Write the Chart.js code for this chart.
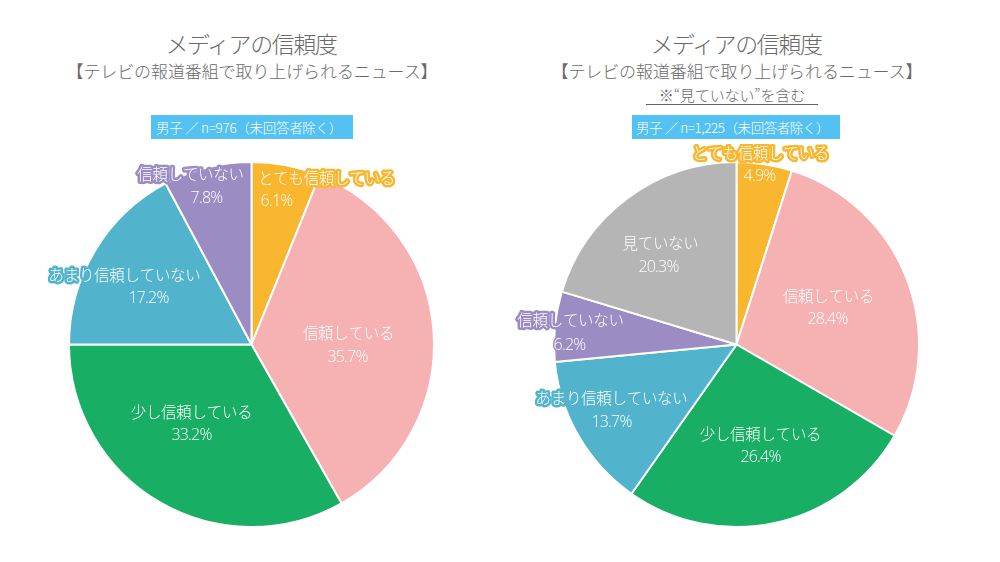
<!DOCTYPE html>
<html lang="ja">
<head>
<meta charset="utf-8">
<title>メディアの信頼度</title>
<script src="https://cdn.jsdelivr.net/npm/chart.js@4"></script>
<style>
    html, body { margin: 0; background: #fff; }
    body { position: relative; width: 1000px; height: 562px; overflow: hidden; font-family: "Noto Sans CJK JP", sans-serif; font-weight: 300; color: #6a6a6a; }
    .txt { position: absolute; text-align: center; white-space: nowrap; }
    .title { font-size: 23px; line-height: 30px; width: 400px; top: 28px; letter-spacing: -1.4px; }
    .sub { font-size: 17px; line-height: 24px; width: 460px; top: 59px; letter-spacing: -0.1px; }
    .note { font-size: 15px; line-height: 20px; left: 646px; width: 172px; top: 85px; border-bottom: 1px solid #666; height: 19px; letter-spacing: -0.1px; }
    .badge { position: absolute; background: #53c1f2; color: #fff; font-size: 13.5px; line-height: 24px; height: 24px; box-sizing: border-box; padding-left: 5px; white-space: nowrap; letter-spacing: -0.3px; }
    canvas { position: absolute; top: 0; }
    .pie { position: absolute; top: 144px; width: 503px; height: 401px; }
</style>
</head>
<body>
<div class="txt title" style="left:51px">メディアの信頼度</div>
<div class="txt sub" style="left:22px">【テレビの報道番組で取り上げられるニュース】</div>
<div class="badge" style="left:151px;top:115px;width:202px">男子 ／ n=976（未回答者除く）</div>

<div class="txt title" style="left:536px">メディアの信頼度</div>
<div class="txt sub" style="left:507px">【テレビの報道番組で取り上げられるニュース】</div>
<div class="txt note">※“見ていない”を含む</div>
<div class="badge" style="left:632px;top:115px;width:208px;padding-left:4px;letter-spacing:-0.45px">男子 ／ n=1,225（未回答者除く）</div>

<div class="pie" style="left:0"><canvas id="pieLeft"></canvas></div>
<div class="pie" style="left:485px"><canvas id="pieRight"></canvas></div>

<script>
// Categories and values
const leftCategories = ['とても信頼している', '信頼している', '少し信頼している', 'あまり信頼していない', '信頼していない'];
const leftValues = [6.1, 35.7, 33.2, 17.2, 7.8];
const rightCategories = ['とても信頼している', '信頼している', '少し信頼している', 'あまり信頼していない', '信頼していない', '見ていない'];
const rightValues = [4.9, 28.4, 26.4, 13.7, 6.2, 20.3];

const sliceColors = ['#f9b62f', '#f6b1b3', '#18af64', '#52b3cd', '#9b8dc3', '#b5b5b5'];

// Label offsets from the pie centre: [name x, name y, percent x, percent y]
const leftLabelPos = [
    [75, -166, 25, -143],
    [97, -11, 96, 13],
    [-60, 68, -60, 91],
    [-127, -69, -103, -46],
    [-61, -170, -45, -146]
];
const rightLabelPos = [
    [24, -191, 23, -168],
    [92, -48, 91, -25],
    [24, 90, 24, 113],
    [-125, 54, -125, 78],
    [-166, -24, -167, 1],
    [-76, -101, -78, -77]
];
// Which labels get a coloured outline (they run off the slice)
const leftOutlined = [true, false, false, true, true];
const rightOutlined = [true, false, false, true, true, false];

const sliceLabels = {
    id: 'sliceLabels',
    afterDatasetsDraw(chart, args, opts) {
        const c = chart.ctx;
        const cx = chart.getDatasetMeta(0).data[0].x;
        const cy = chart.getDatasetMeta(0).data[0].y;
        c.save();
        c.textAlign = 'center';
        c.textBaseline = 'middle';
        c.lineJoin = 'round';
        chart.data.labels.forEach((name, i) => {
            const p = opts.pos[i];
            const pct = chart.data.datasets[0].data[i].toFixed(1) + '%';
            c.strokeStyle = sliceColors[i];
            c.fillStyle = '#fff';

            c.font = '300 15.5px "Noto Sans CJK JP"';
            c.letterSpacing = '-0.3px';
            if (opts.outlined[i]) {
                c.lineWidth = 5;
                c.strokeText(name, cx + p[0], cy + p[1]);
            }
            c.fillText(name, cx + p[0], cy + p[1]);

            c.font = '300 16px "Open Sans", "Noto Sans CJK JP"';
            c.letterSpacing = '-0.8px';
            if (opts.outlined[i]) {
                c.lineWidth = 3;
                c.strokeText(pct, cx + p[2], cy + p[3]);
            }
            c.fillText(pct, cx + p[2], cy + p[3]);
        });
        c.restore();
    }
};

function makePie(id, categories, values, pos, outlined) {
    new Chart(document.getElementById(id), {
        type: 'pie',
        data: {
            labels: categories,
            datasets: [{
                data: values,
                backgroundColor: sliceColors.slice(0, values.length),
                borderColor: '#fff',
                borderWidth: 2
            }]
        },
        options: {
            responsive: true,
            maintainAspectRatio: false,
            animation: false,
            radius: 182.5,
            plugins: {
                legend: { display: false },
                tooltip: { enabled: false },
                sliceLabels: { pos: pos, outlined: outlined }
            }
        },
        plugins: [sliceLabels]
    });
}

makePie('pieLeft', leftCategories, leftValues, leftLabelPos, leftOutlined);
makePie('pieRight', rightCategories, rightValues, rightLabelPos, rightOutlined);
</script>
</body>
</html>
